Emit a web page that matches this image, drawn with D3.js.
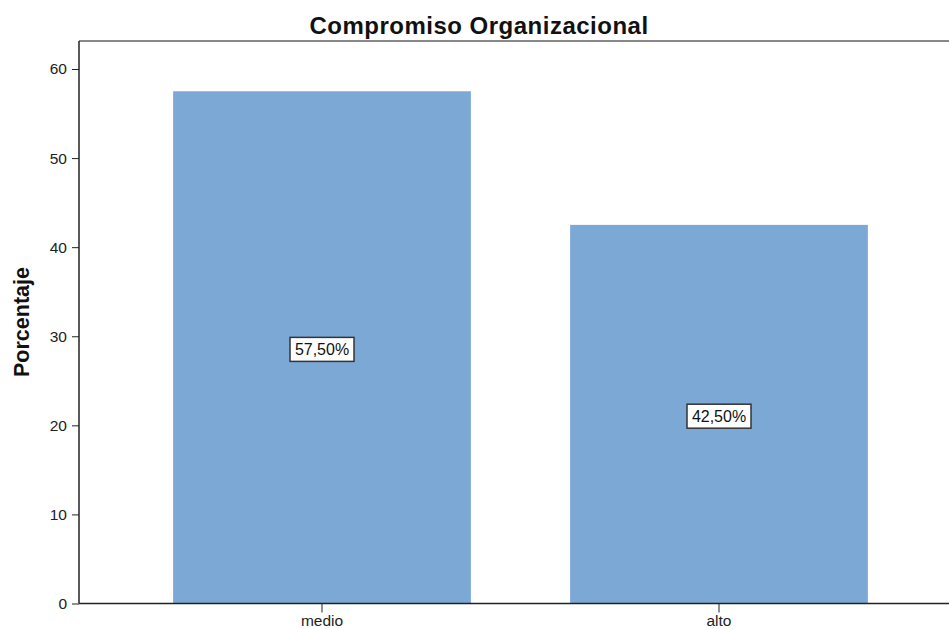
<!DOCTYPE html>
<html>
<head>
<meta charset="utf-8">
<script src="https://cdn.jsdelivr.net/npm/d3@7"></script>
<style>
  html, body { margin: 0; padding: 0; background: #fff; overflow: hidden; }
  svg { display: block; font-family: "Liberation Sans", Arial, sans-serif; }
</style>
</head>
<body>
<svg id="chart" width="949" height="629"></svg>
<script>
// Data
const categories = ["medio", "alto"];
const percentages = [57.5, 42.5];
const yTicks = [0, 10, 20, 30, 40, 50, 60];

const svg = d3.select("#chart");
const plot = { left: 79, right: 949, top: 41, bottom: 603.5 };
const FONT = "Liberation Sans, Arial, sans-serif";

const x = d3.scaleBand()
  .domain(categories)
  .range([123.5, 917.5])
  .paddingInner(0.25)
  .paddingOuter(0.125);

const y = d3.scaleLinear()
  .domain([0, 60])
  .range([plot.bottom, 69]);

// Frame top line
svg.append("line")
  .attr("x1", plot.left).attr("x2", plot.right)
  .attr("y1", plot.top).attr("y2", plot.top)
  .attr("stroke", "#888").attr("stroke-width", 2);

// Bars
svg.append("g").selectAll("rect")
  .data(categories)
  .join("rect")
  .attr("x", d => x(d))
  .attr("width", x.bandwidth())
  .attr("y", (d, i) => y(percentages[i]))
  .attr("height", (d, i) => y(0) - y(percentages[i]))
  .attr("fill", "#7ba8d5");

// Y axis
const yAxis = svg.append("g")
  .attr("transform", `translate(${plot.left},0)`)
  .call(d3.axisLeft(y).tickValues(yTicks).tickSize(7).tickPadding(5).tickFormat(d3.format("d")))
  .call(g => g.select(".domain").remove());
yAxis.selectAll(".tick line").attr("stroke", "#222");
yAxis.selectAll(".tick text").attr("font-size", 15.5).attr("fill", "#222").attr("font-family", FONT);

// X axis
const xAxis = svg.append("g")
  .attr("transform", `translate(0,${plot.bottom})`)
  .call(d3.axisBottom(x).tickSize(9).tickPadding(2))
  .call(g => g.select(".domain").remove());
xAxis.selectAll(".tick line").attr("stroke", "#222");
xAxis.selectAll(".tick text").attr("font-size", 15.5).attr("fill", "#222").attr("font-family", FONT);

// Axis lines
svg.append("line")
  .attr("x1", plot.left).attr("x2", plot.left)
  .attr("y1", plot.top).attr("y2", plot.bottom)
  .attr("stroke", "#222").attr("stroke-width", 1.5);
svg.append("line")
  .attr("x1", plot.left).attr("x2", plot.right)
  .attr("y1", plot.bottom).attr("y2", plot.bottom)
  .attr("stroke", "#222").attr("stroke-width", 1.5);

// Value labels in boxes at half bar height
const labelFmt = v => v.toFixed(2).replace(".", ",") + "%";
const labels = svg.append("g").selectAll("g")
  .data(categories)
  .join("g")
  .attr("transform", (d, i) => `translate(${x(d) + x.bandwidth() / 2},${y(percentages[i] / 2) + 2})`);
labels.append("rect")
  .attr("x", -32).attr("y", -12)
  .attr("width", 64).attr("height", 24)
  .attr("fill", "#fff").attr("stroke", "#333").attr("stroke-width", 1.5);
labels.append("text")
  .attr("text-anchor", "middle")
  .attr("dy", "0.36em")
  .attr("font-size", 16)
  .attr("fill", "#111")
  .text((d, i) => labelFmt(percentages[i]));

// Title
svg.append("text")
  .attr("x", 479).attr("y", 34)
  .attr("text-anchor", "middle")
  .attr("font-size", 24).attr("font-weight", "bold")
  .attr("letter-spacing", 0.5)
  .attr("fill", "#111")
  .text("Compromiso Organizacional");

// Y axis title
svg.append("text")
  .attr("transform", `translate(28.5,322) rotate(-90)`)
  .attr("text-anchor", "middle")
  .attr("font-size", 21.5).attr("font-weight", "bold")
  .attr("fill", "#111")
  .text("Porcentaje");
</script>
</body>
</html>
